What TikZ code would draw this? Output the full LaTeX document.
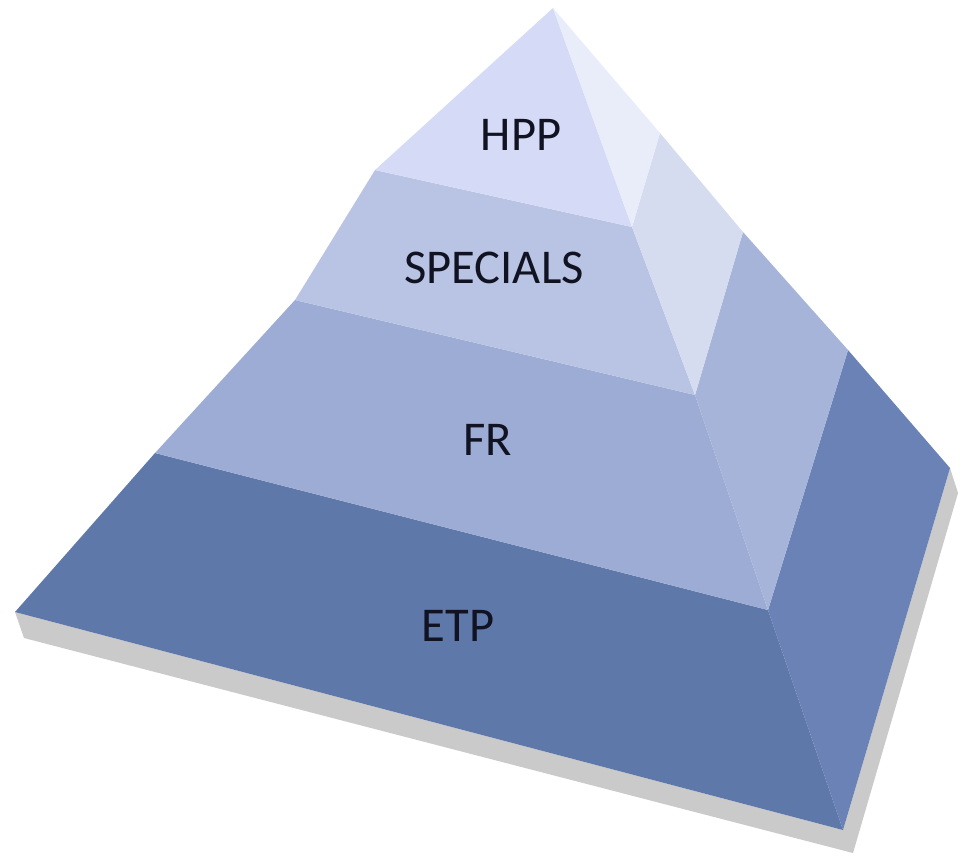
\documentclass[tikz,border=0pt]{standalone}
\usepackage{fontspec}
\setmainfont{Carlito}
\usepackage{xcolor}
\usepackage{tikz}
\definecolor{hppfront}{HTML}{D5DBF6}
\definecolor{hppside}{HTML}{E9ECF9}
\definecolor{specfront}{HTML}{B9C4E4}
\definecolor{specside}{HTML}{D6DCF0}
\definecolor{frfront}{HTML}{9DACD4}
\definecolor{frside}{HTML}{A6B4DA}
\definecolor{etpfront}{HTML}{5E78A9}
\definecolor{etpside}{HTML}{6A82B6}
\definecolor{basegray}{HTML}{CACACA}
\definecolor{ink}{HTML}{111322}

\begin{document}
\begin{tikzpicture}[x=0.01cm,y=-0.01cm]
    \useasboundingbox (0,0) rectangle (962,857);

    \tikzstyle{label}=[font=\fontsize{13.8}{16}\selectfont,text=ink,inner sep=0pt]

    % corners of the bands
    \coordinate (apex) at (553,8);
    \coordinate (h1) at (375,170);
    \coordinate (h2) at (632,227);
    \coordinate (h3) at (660,133);
    \coordinate (s1) at (295,300);
    \coordinate (s2) at (695,395);
    \coordinate (s3) at (743,232);
    \coordinate (f1) at (155,453);
    \coordinate (f2) at (768,610);
    \coordinate (f3) at (848,350);
    \coordinate (e1) at (15,612);
    \coordinate (e2) at (843,830);
    \coordinate (e3) at (950,468);

    % shadow
    \fill[basegray] ([shift={(9,26)}]e1) -- ([shift={(10,23)}]e2) -- ([shift={(8,25)}]e3)
        -- (e3) -- (e2) -- (e1) -- cycle;

    % ETP
    \fill[etpfront] (f1) -- (f2) -- (e2) -- (e1) -- cycle;
    \fill[etpside] (f2) -- (f3) -- (e3) -- (e2) -- cycle;

    % FR
    \fill[frfront] (s1) -- (s2) -- (f2) -- (f1) -- cycle;
    \fill[frside] (s2) -- (s3) -- (f3) -- (f2) -- cycle;

    % SPECIALS
    \fill[specfront] (h1) -- (h2) -- (s2) -- (s1) -- cycle;
    \fill[specside] (h2) -- (h3) -- (s3) -- (s2) -- cycle;

    % HPP
    \fill[hppfront] (apex) -- (h2) -- (h1) -- cycle;
    \fill[hppside] (apex) -- (h3) -- (h2) -- cycle;

    \node[label] (hpp) at (521,135) {HPP};
    \node[label] (spec) at (494,268) {SPECIALS};
    \node[label] (fr) at (488,440) {FR};
    \node[label] (etp) at (458,626) {ETP};

\end{tikzpicture}
\end{document}
